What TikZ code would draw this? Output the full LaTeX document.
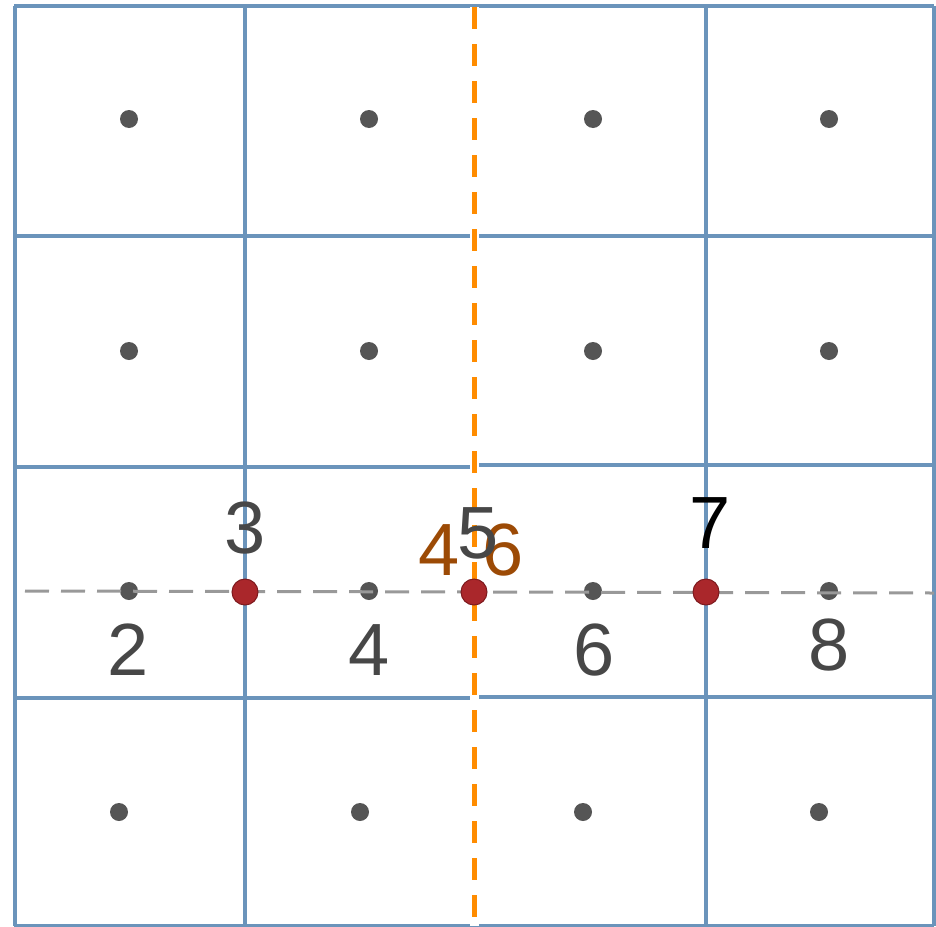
\documentclass[tikz,border=0pt]{standalone}
\usepackage{fontspec}
\setmainfont{Liberation Sans}
\definecolor{gridblue}{HTML}{6B94BB}
\definecolor{dotgray}{HTML}{555555}
\definecolor{lblgray}{HTML}{474747}
\definecolor{redfill}{HTML}{AA272B}
\definecolor{redline}{HTML}{7E1A1E}
\definecolor{orangeline}{HTML}{FF8C00}
\definecolor{brownlbl}{HTML}{9C4A05}
\definecolor{dashgray}{HTML}{999999}
\begin{document}
\begin{tikzpicture}[x=1pt,y=-1pt,
  gridline/.style={draw=gridblue,line width=4pt},
  gdot/.style={circle,fill=dotgray,inner sep=0pt,minimum size=18pt},
  redpt/.style={circle,fill=redfill,draw=redline,line width=1pt,inner sep=0pt,minimum size=26pt},
  lbl/.style={inner sep=0pt,text=lblgray,font=\fontsize{74}{80}\selectfont},
  hline/.style={draw=dashgray,line width=3pt,dash pattern=on 24pt off 12pt},
  vline/.style={draw=orangeline,line width=5pt,dash pattern=on 22pt off 15pt}]
\useasboundingbox (0,0) rectangle (936,926);
\clip (0,0) rectangle (936,926);
% left half grid
\foreach \y in {6,236,467,698,926} \draw[gridline] (14,\y) -- (474,\y);
% right half grid
\foreach \y in {6,236,465,697,926} \draw[gridline] (474,\y) -- (934,\y);
\foreach \x in {15,245,474,706,934} \draw[gridline] (\x,6) -- (\x,926);
% dots
\node[gdot] (a1) at (129,119) {};
\node[gdot] (a2) at (369,119) {};
\node[gdot] (a3) at (593,119) {};
\node[gdot] (a4) at (829,119) {};
\node[gdot] (b1) at (129,351) {};
\node[gdot] (b2) at (369,351) {};
\node[gdot] (b3) at (593,351) {};
\node[gdot] (b4) at (829,351) {};
\node[gdot] (c1) at (129,591) {};
\node[gdot] (c2) at (369,591) {};
\node[gdot] (c3) at (593,591) {};
\node[gdot] (c4) at (829,591) {};
\node[gdot] (e1) at (119,812) {};
\node[gdot] (e2) at (360,812) {};
\node[gdot] (e3) at (583,812) {};
\node[gdot] (e4) at (819,812) {};
% dashed lines
\coordinate (hl) at (25,591);
\coordinate (hr) at (934,593);
\draw[hline] (hl) -- (hr);
\coordinate (vt) at (474,7);
\coordinate (vb) at (474,926);
\draw[white,line width=9pt] (vt) -- (vb);
\draw[vline] (vt) -- (vb);
% red points
\node[redpt] (r1) at (245,592) {};
\node[redpt] (r2) at (474,592) {};
\node[redpt] (r3) at (706,592) {};
% labels
\node[lbl] (l2) at (128,650) {2};
\node[lbl] (l3) at (245,528) {3};
\node[lbl] (l4) at (369,650) {4};
\node[lbl] (l6) at (594,650) {6};
\node[lbl] (l8) at (829,645) {8};
\node[lbl,text=black] (l7) at (710,523) {7};
\node[lbl,text=brownlbl] (l4b) at (439,550) {4};
\node[lbl,text=brownlbl] (l6b) at (503,550) {6};
\node[lbl] (l5) at (478,533) {5};
\end{tikzpicture}
\end{document}
